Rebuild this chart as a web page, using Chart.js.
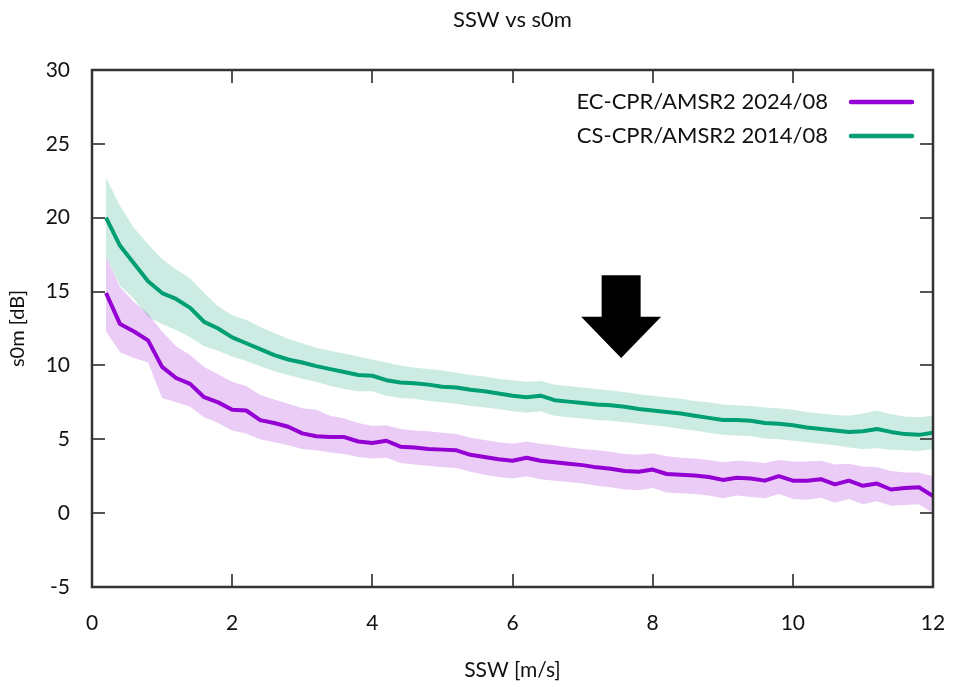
<!DOCTYPE html>
<html>
<head>
<meta charset="utf-8">
<script src="https://cdn.jsdelivr.net/npm/chart.js@4.4.1/dist/chart.umd.min.js"></script>
<style>
  html, body { margin: 0; padding: 0; background: #ffffff; }
  #wrap { width: 953px; height: 687px; }
</style>
</head>
<body>
<div id="wrap"><canvas id="c" width="953" height="687"></canvas></div>
<script>
// ---- data ----
const windSpeed = [0.2,0.4,0.6,0.8,1.0,1.2,1.4,1.6,1.8,2.0,2.2,2.4,2.6,2.8,3.0,3.2,3.4,3.6,3.8,4.0,
  4.2,4.4,4.6,4.8,5.0,5.2,5.4,5.6,5.8,6.0,6.2,6.4,6.6,6.8,7.0,7.2,7.4,7.6,7.8,8.0,
  8.2,8.4,8.6,8.8,9.0,9.2,9.4,9.6,9.8,10.0,10.2,10.4,10.6,10.8,11.0,11.2,11.4,11.6,11.8,12.0];

const ecMean = [14.9,12.8,12.3,11.7,9.9,9.15,8.75,7.85,7.5,7.0,6.95,6.3,6.1,5.85,5.4,5.2,5.15,5.15,4.85,4.75,
  4.9,4.5,4.45,4.35,4.3,4.25,3.95,3.8,3.65,3.55,3.75,3.55,3.45,3.35,3.25,3.1,3.0,2.85,2.8,2.95,
  2.65,2.6,2.55,2.45,2.25,2.4,2.35,2.2,2.5,2.2,2.2,2.3,1.95,2.2,1.85,2.0,1.6,1.7,1.75,1.15];
const ecUpper = [17.4,15.3,14.3,13.5,12.3,11.3,10.7,9.9,9.4,8.9,8.6,8.0,7.7,7.4,7.1,7.0,6.6,6.4,6.1,5.9,
  5.95,5.7,5.6,5.55,5.45,5.35,5.1,4.95,4.8,4.7,4.85,4.7,4.6,4.45,4.35,4.25,4.15,4.0,3.95,4.05,
  3.85,3.75,3.7,3.6,3.45,3.55,3.5,3.4,3.6,3.5,3.5,3.55,3.3,3.35,3.15,3.1,2.85,2.75,2.75,2.5];
const ecLower = [12.3,10.9,10.5,10.2,7.8,7.5,7.2,6.5,6.1,5.6,5.4,5.0,4.8,4.6,4.35,4.25,4.1,4.0,3.8,3.7,
  3.75,3.4,3.3,3.2,3.1,3.05,2.8,2.6,2.45,2.35,2.5,2.3,2.2,2.1,2.0,1.85,1.75,1.6,1.55,1.7,
  1.4,1.35,1.3,1.2,1.0,1.2,1.1,1.0,1.3,0.95,0.9,1.05,0.7,0.95,0.6,0.8,0.5,0.55,0.6,0.0];

const csMean = [20.0,18.1,16.9,15.7,14.9,14.5,13.9,12.95,12.5,11.9,11.5,11.1,10.7,10.4,10.2,9.95,9.75,9.55,9.35,9.3,
  9.0,8.85,8.8,8.7,8.55,8.5,8.35,8.25,8.1,7.95,7.85,7.95,7.65,7.55,7.45,7.35,7.3,7.2,7.05,6.95,
  6.85,6.75,6.6,6.45,6.3,6.3,6.25,6.1,6.05,5.95,5.8,5.7,5.6,5.5,5.55,5.7,5.5,5.35,5.3,5.45];
const csUpper = [22.7,20.8,19.3,18.2,17.2,16.5,15.9,14.9,14.0,13.4,13.1,12.6,12.2,11.8,11.5,11.2,11.0,10.8,10.6,10.4,
  10.2,10.0,9.85,9.75,9.65,9.5,9.35,9.25,9.1,9.0,8.9,8.95,8.7,8.6,8.5,8.4,8.3,8.2,8.05,7.95,
  7.85,7.75,7.6,7.5,7.35,7.3,7.25,7.15,7.1,7.0,6.85,6.75,6.65,6.6,6.75,6.95,6.7,6.55,6.5,6.6];
const csLower = [17.4,15.4,14.5,13.3,12.8,12.4,11.9,11.3,11.0,10.6,10.3,9.95,9.6,9.35,9.1,8.9,8.6,8.4,8.25,8.25,
  7.95,7.8,7.75,7.6,7.5,7.4,7.25,7.15,7.05,6.9,6.8,6.9,6.6,6.5,6.4,6.3,6.25,6.15,6.05,5.95,
  5.85,5.7,5.6,5.45,5.3,5.25,5.2,5.05,5.0,4.9,4.8,4.7,4.6,4.45,4.35,4.4,4.3,4.25,4.2,4.35];

const seriesLabels = ['EC-CPR/AMSR2 2024/08', 'CS-CPR/AMSR2 2014/08'];
const chartTitle = 'SSW vs s0m';
const xAxisTitle = 'SSW [m/s]';
const yAxisTitle = 's0m [dB]';
const xTicks = [0, 2, 4, 6, 8, 10, 12];
const yTicks = [-5, 0, 5, 10, 15, 20, 25, 30];

// annotation arrow, in data units
const arrowMark = { x: 7.55, top: 16.1, headBase: 13.3, tip: 10.5 };

// ---- styles ----
const FONT = 'Lato, "Open Sans", sans-serif';
const TEXT_COLOR = '#111';
const PURPLE = '#9400d3';
const GREEN = '#009e73';
const PURPLE_BAND = 'rgba(148,0,211,0.2)';
const GREEN_BAND = 'rgba(0,158,115,0.2)';

const pts = (ys) => windSpeed.map((x, i) => ({ x: x, y: ys[i] }));

const frame = {
  id: 'frame',
  afterDraw(chart) {
    const { ctx, chartArea: a, scales } = chart;
    ctx.save();
    // inward ticks on all four sides
    ctx.strokeStyle = '#555';
    ctx.lineWidth = 2;
    const tl = 13;
    ctx.beginPath();
    xTicks.forEach(v => {
      const px = Math.round(scales.x.getPixelForValue(v));
      ctx.moveTo(px, a.bottom); ctx.lineTo(px, a.bottom - tl);
      ctx.moveTo(px, a.top); ctx.lineTo(px, a.top + tl);
    });
    yTicks.forEach(v => {
      const py = Math.round(scales.y.getPixelForValue(v));
      ctx.moveTo(a.left, py); ctx.lineTo(a.left + tl, py);
      ctx.moveTo(a.right, py); ctx.lineTo(a.right - tl, py);
    });
    ctx.stroke();
    // border
    ctx.strokeStyle = '#333';
    ctx.lineWidth = 2.5;
    ctx.strokeRect(a.left, a.top, a.right - a.left, a.bottom - a.top);

    // title
    ctx.fillStyle = TEXT_COLOR;
    ctx.font = '22px ' + FONT;
    ctx.textAlign = 'center';
    ctx.textBaseline = 'middle';
    ctx.fillText(chartTitle, (a.left + a.right) / 2, 20);

    // legend (text left of sample line, gnuplot style)
    const legendItems = [chart.data.datasets[4], chart.data.datasets[5]];
    ctx.font = '22px ' + FONT;
    ctx.textAlign = 'right';
    legendItems.forEach((ds, i) => {
      const y = a.top + 32 + i * 34;
      ctx.fillStyle = TEXT_COLOR;
      ctx.fillText(ds.label, a.right - 105, y);
      ctx.strokeStyle = ds.borderColor;
      ctx.lineWidth = 4.5;
      ctx.lineCap = 'round';
      ctx.beginPath();
      ctx.moveTo(a.right - 82, y); ctx.lineTo(a.right - 21, y);
      ctx.stroke();
    });

    // arrow annotation
    const ax = scales.x.getPixelForValue(arrowMark.x);
    const yTop = scales.y.getPixelForValue(arrowMark.top);
    const yBase = scales.y.getPixelForValue(arrowMark.headBase);
    const yTip = scales.y.getPixelForValue(arrowMark.tip);
    ctx.fillStyle = '#000';
    ctx.beginPath();
    ctx.moveTo(ax - 19.5, yTop);
    ctx.lineTo(ax + 19.5, yTop);
    ctx.lineTo(ax + 19.5, yBase);
    ctx.lineTo(ax + 40, yBase);
    ctx.lineTo(ax, yTip);
    ctx.lineTo(ax - 40, yBase);
    ctx.lineTo(ax - 19.5, yBase);
    ctx.closePath();
    ctx.fill();
    ctx.restore();
  }
};

new Chart(document.getElementById('c'), {
  type: 'line',
  data: {
    datasets: [
      { label: 'ec upper', data: pts(ecUpper), borderWidth: 0, pointRadius: 0, fill: '+1', backgroundColor: PURPLE_BAND, order: 2 },
      { label: 'ec lower', data: pts(ecLower), borderWidth: 0, pointRadius: 0, fill: false, order: 2 },
      { label: 'cs upper', data: pts(csUpper), borderWidth: 0, pointRadius: 0, fill: '+1', backgroundColor: GREEN_BAND, order: 3 },
      { label: 'cs lower', data: pts(csLower), borderWidth: 0, pointRadius: 0, fill: false, order: 3 },
      { label: seriesLabels[0], data: pts(ecMean), borderColor: PURPLE, borderWidth: 4, pointRadius: 0, fill: false, order: 0, borderJoinStyle: 'round' },
      { label: seriesLabels[1], data: pts(csMean), borderColor: GREEN, borderWidth: 4, pointRadius: 0, fill: false, order: 1, borderJoinStyle: 'round' }
    ]
  },
  options: {
    responsive: false,
    animation: false,
    layout: { padding: { left: 0, top: 70, right: 20, bottom: 0 } },
    plugins: {
      legend: { display: false },
      title: { display: false },
      tooltip: { enabled: false },
      filler: { propagate: false }
    },
    elements: { line: { tension: 0 } },
    scales: {
      x: {
        type: 'linear', min: 0, max: 12,
        afterFit(s) { s.height = 100; s.paddingLeft = 0; s.paddingRight = 0; },
        afterBuildTicks(s) { s.ticks = xTicks.map(v => ({ value: v })); },
        grid: { display: false },
        border: { display: false },
        ticks: { color: TEXT_COLOR, font: { family: FONT, size: 21 }, padding: 16, maxRotation: 0 },
        title: { display: true, text: xAxisTitle, color: TEXT_COLOR, font: { family: FONT, size: 21 }, padding: { top: 0, bottom: 4 } }
      },
      y: {
        type: 'linear', min: -5, max: 30,
        afterFit(s) { s.width = 92; s.paddingTop = 0; s.paddingBottom = 0; },
        afterBuildTicks(s) { s.ticks = yTicks.map(v => ({ value: v })); },
        grid: { display: false },
        border: { display: false },
        ticks: { color: TEXT_COLOR, font: { family: FONT, size: 21 }, padding: 14 },
        title: { display: true, text: yAxisTitle, color: TEXT_COLOR, font: { family: FONT, size: 20 }, padding: { top: 6, bottom: 0 } }
      }
    }
  },
  plugins: [frame]
});
</script>
</body>
</html>
